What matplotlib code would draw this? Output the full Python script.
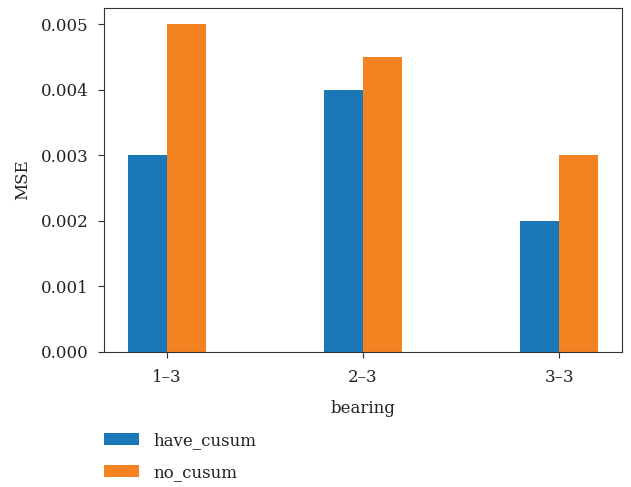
import matplotlib
matplotlib.use("Agg")
import matplotlib.pyplot as plt
import numpy as np

categories = ["1–3", "2–3", "3–3"]
have_cusum = [0.003, 0.004, 0.002]
no_cusum = [0.005, 0.0045, 0.003]
series_names = ["have_cusum", "no_cusum"]
yticks = [0, 0.001, 0.002, 0.003, 0.004, 0.005]

plt.rcParams['font.family'] = ['DejaVu Serif']
fs = 12
fig = plt.figure(figsize=(6.31, 4.87), dpi=100)
ax = fig.add_axes([104/631, 1-352/487, (622-104)/631, (352-8)/487])

x = np.arange(len(categories))
w = 0.2
ax.bar(x - w/2, have_cusum, w, color="#1a77b8", label=series_names[0])
ax.bar(x + w/2, no_cusum, w, color="#f58220", label=series_names[1])
ax.set_xticks(x)
ax.set_xticklabels(categories)
ax.set_yticks(yticks)
ax.set_yticklabels([f"{v:.3f}" for v in yticks])
ax.tick_params(labelsize=fs, length=4, pad=7, color="#333333", labelcolor="#222222")
ax.tick_params(axis="x", pad=8.5)
for s in ax.spines.values():
    s.set_color("#333333")
ax.set_xlabel("bearing", fontsize=fs, labelpad=9.5, color="#222222")
ax.set_ylabel("MSE", fontsize=fs, labelpad=7, color="#222222")
ax.legend(loc="upper left", bbox_to_anchor=(104/631, 1-432/487),
          bbox_transform=fig.transFigure, frameon=False, borderaxespad=0,
          borderpad=0, fontsize=fs, handlelength=2.1, handleheight=0.7,
          handletextpad=0.85, labelspacing=0.9, labelcolor="#222222")
fig.savefig("out.png", dpi=100)
